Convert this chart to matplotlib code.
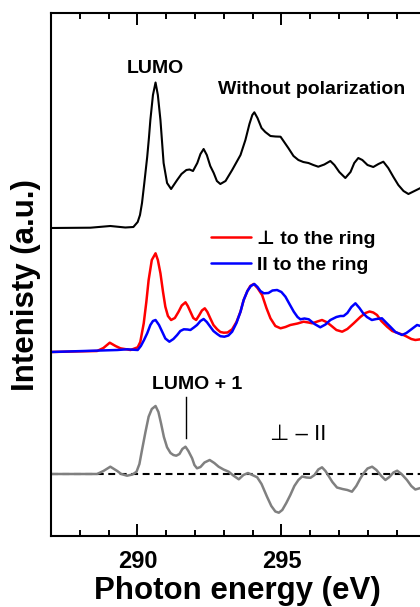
import matplotlib
matplotlib.use('Agg')
import matplotlib.pyplot as plt
from matplotlib.ticker import MultipleLocator

plt.rcParams['font.family'] = ['Liberation Sans', 'DejaVu Sans']

# C K-edge NEXAFS, all curves in arbitrary units above their own baseline
e_total = [287.00, 288.37, 289.06, 289.58, 289.86, 290.01, 290.09, 290.16, 290.24, 290.34,
           290.40, 290.45, 290.54, 290.63, 290.71, 290.80, 290.91, 291.03, 291.17, 291.38,
           291.53, 291.70, 291.81, 291.93, 292.08, 292.19, 292.30, 292.41, 292.53, 292.65,
           292.76, 292.88, 293.06, 293.29, 293.58, 293.75, 293.89, 293.99, 294.06, 294.17,
           294.31, 294.44, 294.62, 294.79, 294.97, 295.24, 295.42, 295.59, 295.76, 295.94,
           296.11, 296.28, 296.49, 296.70, 296.84, 297.01, 297.22, 297.40, 297.53, 297.67,
           297.81, 297.99, 298.19, 298.37, 298.54, 298.71, 298.89, 299.06, 299.24, 299.41,
           299.62, 299.83, 300.17]
i_total = [0, 0.3, 2, 0.5, 1, 6, 13, 25, 45, 71,
           90, 108, 133, 145.5, 133, 108, 65, 45, 39, 48,
           54, 58, 58.5, 57, 65, 74, 79, 73, 62, 55,
           47, 44, 47, 58, 73, 88, 104, 113, 115.7, 110,
           100, 96, 92, 91.5, 91.3, 80, 72, 68, 66, 65,
           63, 61.3, 63.5, 67, 63, 56, 50, 56, 65, 70,
           68, 63, 61, 64, 66.3, 60, 51, 43, 37, 34,
           37, 40, 42]

e_perp = [287.00, 288.60, 288.82, 289.04, 289.24, 289.41, 289.76, 290.01, 290.10, 290.22,
          290.31, 290.39, 290.50, 290.63, 290.71, 290.80, 290.89, 290.97, 291.06, 291.17,
          291.30, 291.43, 291.54, 291.67, 291.75, 291.84, 291.94, 292.04, 292.15, 292.24,
          292.34, 292.43, 292.53, 292.64, 292.77, 292.88, 293.00, 293.13, 293.29, 293.44,
          293.58, 293.69, 293.82, 293.92, 294.04, 294.17, 294.33, 294.48, 294.62, 294.79,
          294.97, 295.14, 295.31, 295.56, 295.77, 295.94, 296.07, 296.25, 296.41, 296.56,
          296.70, 296.91, 297.11, 297.29, 297.51, 297.74, 297.92, 298.06, 298.19, 298.32,
          298.47, 298.67, 298.85, 299.07, 299.24, 299.36, 299.51, 299.65, 299.83, 300.17]
i_perp = [0, 1, 4, 9.3, 6, 3.7, 2, 4.7, 10, 28.7,
          50, 72, 92, 98.7, 92, 78.7, 60, 45.3, 36, 32,
          34, 40.3, 46.5, 49.7, 46, 40.3, 34, 32, 37, 41.5,
          43.7, 40, 33.7, 27, 22.7, 20, 19.3, 19.5, 22.7, 30,
          40.3, 52, 61, 66, 68, 64, 57, 44, 33.7, 26,
          23.7, 25, 27, 28.5, 30.3, 29.5, 28.7, 30.5, 32, 30,
          27, 22, 20.3, 23, 28.7, 35, 39, 40.5, 39.5, 37,
          31, 25.3, 21, 18.7, 17, 15.3, 13, 12, 12.7, 14]

e_par = [287.00, 289.30, 289.64, 290.01, 290.12, 290.23, 290.34, 290.45, 290.54, 290.63,
         290.75, 290.86, 290.97, 291.11, 291.25, 291.38, 291.49, 291.61, 291.74, 291.84,
         291.96, 292.07, 292.19, 292.30, 292.41, 292.53, 292.64, 292.77, 292.88, 293.02,
         293.16, 293.29, 293.44, 293.58, 293.69, 293.82, 293.94, 294.06, 294.17, 294.27,
         294.39, 294.55, 294.69, 294.85, 295.00, 295.14, 295.28, 295.43, 295.56, 295.66,
         295.80, 295.95, 296.15, 296.35, 296.53, 296.70, 296.91, 297.05, 297.16, 297.29,
         297.43, 297.57, 297.71, 297.84, 297.97, 298.14, 298.30, 298.49, 298.65, 298.78,
         298.96, 299.19, 299.34, 299.48, 299.71, 299.83, 300.17]
i_par = [0, 2, 2.7, 2, 6, 12, 18.7, 27, 31, 32,
         27, 20.3, 13.5, 10.3, 13, 17, 21, 22.7, 22.5, 22,
         24.5, 27, 31, 33, 30, 25.3, 21, 18, 15.8, 15.3,
         16.5, 20.3, 29, 40.3, 52, 61, 66, 68, 65, 61,
         58.7, 59, 61.5, 62, 60, 55.3, 48, 40.3, 35, 32.7,
         33.5, 32.7, 28, 24.7, 27.5, 32, 35, 36, 36, 39,
         45, 48.7, 44, 38.7, 35, 32, 33, 33.7, 29, 25.3,
         20, 17, 19, 22, 27, 26, 22]

e_diff = [287.00, 288.60, 288.82, 289.06, 289.30, 289.44, 289.64, 289.83, 289.97, 290.07,
          290.16, 290.28, 290.39, 290.50, 290.63, 290.73, 290.82, 290.92, 291.03, 291.15,
          291.25, 291.35, 291.46, 291.56, 291.67, 291.77, 291.90, 291.98, 292.07, 292.19,
          292.33, 292.51, 292.67, 292.82, 292.99, 293.17, 293.33, 293.52, 293.68, 293.84,
          293.99, 294.16, 294.31, 294.50, 294.65, 294.79, 294.91, 295.03, 295.17, 295.31,
          295.45, 295.59, 295.72, 295.87, 296.01, 296.15, 296.28, 296.41, 296.53, 296.64,
          296.77, 296.93, 297.12, 297.29, 297.45, 297.60, 297.74, 297.86, 297.99, 298.15,
          298.30, 298.47, 298.61, 298.75, 298.89, 299.02, 299.17, 299.36, 299.51, 299.65,
          299.83, 300.17]
i_diff = [0, 0, 3, 7.3, 3, 0, -1.7, -0.5, 2.3, 10,
          24, 42, 57.3, 65, 68, 62, 50.7, 37, 26.7, 21,
          19, 18.3, 20, 25, 27.3, 23, 15.7, 9, 5.7, 7,
          11.5, 14, 11, 7.3, 4.5, 2.3, -1.5, -5.3, -1, 1,
          -1, -3.3, -10, -22.7, -32, -37.5, -38.7, -36, -29, -21,
          -12, -6, -2.5, -3.5, -3.8, -1, 4.5, 6.7, 3, -2,
          -8, -13.5, -15, -16, -17.7, -12, -4.5, 1, 5.5, 7.3,
          4, -2, -6, -3, 1.5, 3.3, 0, -6, -12, -15.5,
          -14, -10]

# vertical offsets of the three panels
off_total = 308
off_pol = 184
off_diff = 62

fig = plt.figure(figsize=(4.2, 6.07), dpi=100)
ax = fig.add_axes([51 / 420, 71 / 607, 403.2 / 420, 523 / 607])

line_kw = dict(solid_joinstyle='round', solid_capstyle='round')
ax.plot(e_total, [v + off_total for v in i_total], color='black', lw=1.5, **line_kw)
ax.plot(e_perp, [v + off_pol for v in i_perp], color='#ff0000', lw=1.8,
        label='\u22a5 to the ring', **line_kw)
ax.plot(e_par, [v + off_pol for v in i_par], color='#0000ff', lw=1.8,
        label='II to the ring', **line_kw)
ax.axhline(off_diff, color='black', lw=1.5, dashes=(3.3, 2.2))
ax.plot(e_diff, [v + off_diff for v in i_diff], color='#808080', lw=1.8, **line_kw)

# LUMO+1 marker
ax.plot([291.69, 291.69], [98, 139], color='black', lw=1)

ax.text(290.64, 463, 'LUMO', ha='center', va='baseline', fontsize=14, fontweight='bold')
ax.text(296.06, 442, 'Without polarization', ha='center', va='baseline',
        fontsize=14, fontweight='bold')
ax.text(292.07, 147, 'LUMO + 1', ha='center', va='baseline', fontsize=14, fontweight='bold')
ax.text(294.62, 96, '\u22a5 \u2013 II', ha='left', va='baseline', fontsize=16)

ax.legend(loc='upper left', bbox_to_anchor=(0.397, 0.585), frameon=False,
          prop={'size': 14, 'weight': 'bold'}, handlelength=2.05, handletextpad=0.3,
          labelspacing=0.45, borderpad=0, borderaxespad=0)

ax.set_xlim(287, 301)
ax.set_ylim(0, 523)
ax.set_xticks([290, 295])
ax.xaxis.set_minor_locator(MultipleLocator(1))
ax.set_yticks([])
ax.tick_params(axis='x', which='both', direction='in', top=True, width=1.4)
ax.tick_params(axis='x', which='major', length=8.6, pad=10, labelsize=17)
ax.tick_params(axis='x', which='minor', length=4.3)
for lab in ax.get_xticklabels():
    lab.set_fontweight('bold')
for sp in ax.spines.values():
    sp.set_linewidth(1.5)

ax.set_xlabel('Photon energy (eV)', fontsize=22.5, fontweight='bold')
ax.set_ylabel('Intenisty (a.u.)', fontsize=22.5, fontweight='bold')
ax.xaxis.set_label_coords(0.461, -0.077)
ax.yaxis.set_label_coords(-0.024, 0.48)

fig.savefig('out.png', dpi=100)
